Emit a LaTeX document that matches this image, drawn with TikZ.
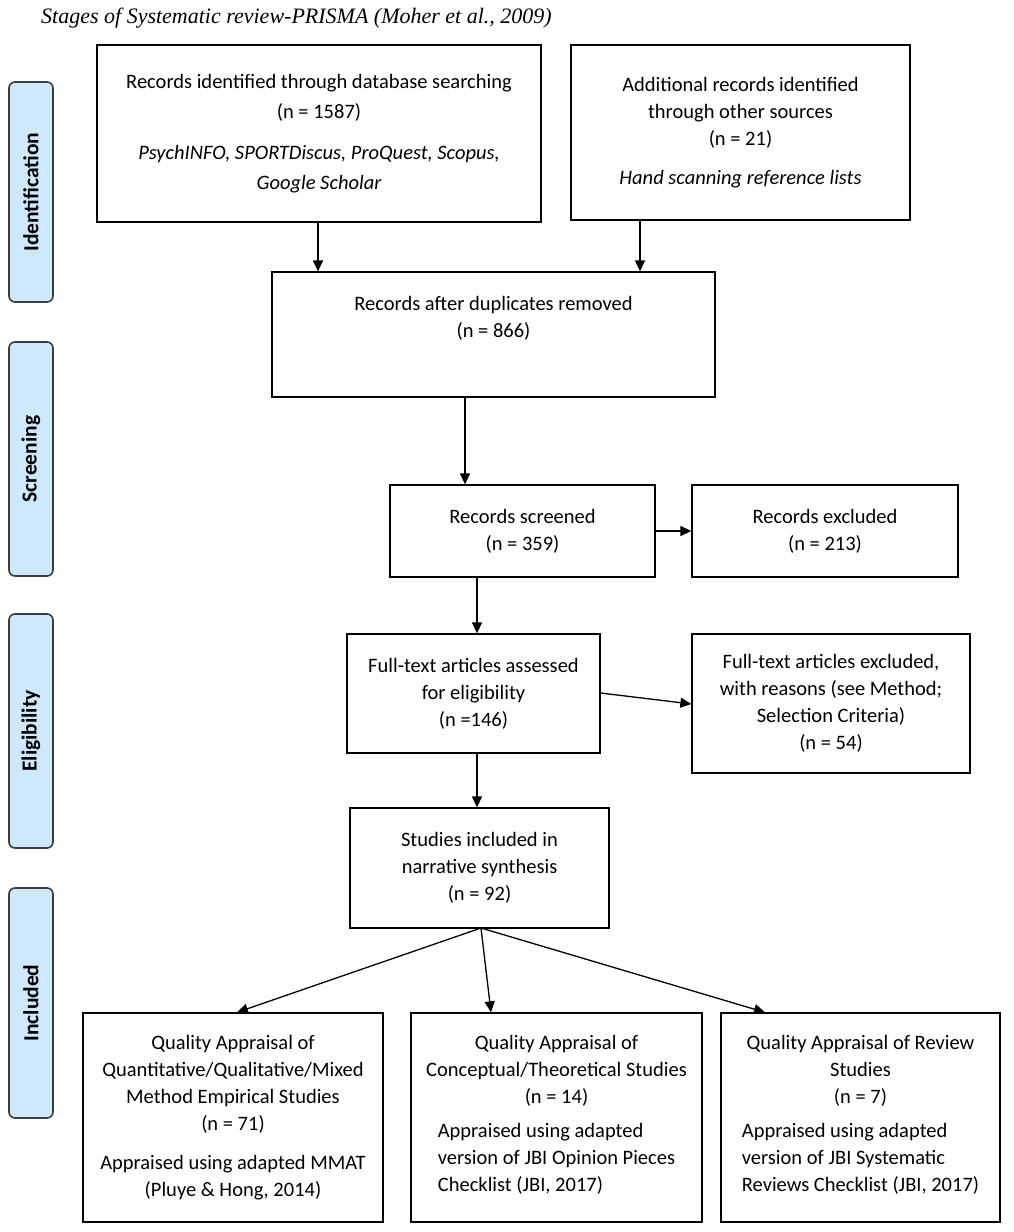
\documentclass[tikz,border=0pt]{standalone}
\usepackage{fontspec}
\setmainfont{Carlito}
\newfontfamily\titlefont{Liberation Serif}
\usetikzlibrary{arrows.meta}
\definecolor{stagebg}{RGB}{206,233,253}
\definecolor{stageline}{RGB}{60,60,60}
\begin{document}
\begin{tikzpicture}[x=1pt,y=-1pt,
  box/.style={draw, line width=1.3pt, align=center, inner sep=0pt, font=\fontsize{20.5}{27}\selectfont},
  stage/.style={draw=stageline, line width=1.6pt, fill=stagebg, rounded corners=6pt, rotate=90, inner sep=0pt, font=\fontsize{21.5}{24}\selectfont\bfseries},
  arr/.style={line width=1.3pt, -{Triangle[length=11pt,width=10pt]}}]
\useasboundingbox (0,0) rectangle (1013,1232);
\node[anchor=west, inner sep=0pt, font=\titlefont\itshape\fontsize{22}{24}\selectfont] (title) at (41,18) {Stages of Systematic review-PRISMA (Moher et al., 2009)};
% stage labels
\node[stage, minimum width=220pt, minimum height=44pt] (s1) at (31,192) {Identification};
\node[stage, minimum width=234pt, minimum height=44pt] (s2) at (31,459) {Screening};
\node[stage, minimum width=234pt, minimum height=44pt] (s3) at (31,731) {Eligibility};
\node[stage, minimum width=230pt, minimum height=44pt] (s4) at (31,1003) {Included};
% boxes
\node[box, font=\fontsize{20.5}{29.5}\selectfont, minimum width=444pt, minimum height=177pt] (b1) at (319,133.5) {Records identified through database searching\\(n = 1587)\\[12pt]\itshape PsychINFO, SPORTDiscus, ProQuest, Scopus,\\\itshape Google Scholar};
\node[box, minimum width=339pt, minimum height=175pt] (b2) at (740.5,132.5) {Additional records identified\\through other sources\\(n = 21)\\[12pt]\itshape Hand scanning reference lists};
\node[box, minimum width=443pt, minimum height=125pt] (b3) at (493.5,334.5) {Records after duplicates removed\\(n = 866)\\\strut};
\node[box, minimum width=265pt, minimum height=92pt] (b4) at (522.5,531) {Records screened\\(n = 359)};
\node[box, minimum width=266pt, minimum height=92pt] (b5) at (825,531) {Records excluded\\(n = 213)};
\node[box, minimum width=253pt, minimum height=119pt] (b6) at (473.5,693.5) {Full-text articles assessed\\for eligibility\\(n =146)};
\node[box, minimum width=278pt, minimum height=139pt] (b7) at (831,703.5) {Full-text articles excluded,\\with reasons (see Method;\\Selection Criteria)\\(n = 54)};
\node[box, minimum width=259pt, minimum height=120pt] (b8) at (479.5,868) {Studies included in\\narrative synthesis\\(n = 92)};
\node[box, minimum width=300pt, minimum height=209pt] (b9) at (233,1117.5) {Quality Appraisal of\\Quantitative/Qualitative/Mixed\\Method Empirical Studies\\(n = 71)\\[12pt]Appraised using adapted MMAT\\(Pluye \& Hong, 2014)};
\node[box, minimum width=291pt, minimum height=209pt] (b10) at (556.5,1117.5) {Quality Appraisal of\\Conceptual/Theoretical Studies\\(n = 14)\\[12pt]\begin{tabular}{@{}l@{}}Appraised using adapted\\version of JBI Opinion Pieces\\Checklist (JBI, 2017)\end{tabular}};
\node[box, minimum width=279pt, minimum height=209pt] (b11) at (860.5,1117.5) {Quality Appraisal of Review\\Studies\\(n = 7)\\[12pt]\begin{tabular}{@{}l@{}}Appraised using adapted\\version of JBI Systematic\\Reviews Checklist (JBI, 2017)\end{tabular}};
% connectors
\coordinate (fan) at (481,928);
\draw[arr] (b1.south -| 318,0) -- (b3.north -| 318,0);
\draw[arr] (b2.south -| 640,0) -- (b3.north -| 640,0);
\draw[arr] (b3.south -| 465,0) -- (b4.north -| 465,0);
\draw[arr] (b4.east) -- (b5.west);
\draw[arr] (b4.south -| 477,0) -- (b6.north -| 477,0);
\draw[arr] (b6.east |- 0,693) -- (b7.west |- 0,704);
\draw[arr] (b6.south -| 477,0) -- (b8.north -| 477,0);
\draw[arr] (fan) -- (b9.north -| 237,0);
\draw[arr] (fan) -- (b10.north -| 491,0);
\draw[arr] (fan) -- (b11.north -| 765,0);
\end{tikzpicture}
\end{document}
